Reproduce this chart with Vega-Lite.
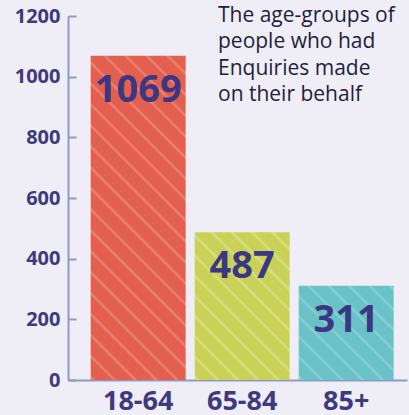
{
  "$schema": "https://vega.github.io/schema/vega-lite/v6.json",
  "width": 339,
  "height": 364,
  "autosize": {"type": "none"},
  "padding": {"left": 68, "top": 16, "right": 2, "bottom": 35},
  "background": "#efeef7",
  "config": {"view": {"stroke": null}},
  "title": {
    "text": ["The age-groups of", "people who had", "Enquiries made", "on their behalf"],
    "anchor": "start",
    "frame": "group",
    "dx": 150,
    "dy": 99,
    "baseline": "top",
    "offset": 0,
    "font": "Open Sans",
    "fontSize": 21,
    "fontWeight": "normal",
    "color": "#231e3c",
    "lineHeight": 26.5
  },
  "data": {
    "values": [
      {"group": "18-64", "count": 1069},
      {"group": "65-84", "count": 487},
      {"group": "85+", "count": 311}
    ]
  },
  "encoding": {
    "x": {
      "field": "group", "type": "nominal", "sort": null,
      "scale": {"paddingInner": 0.087, "paddingOuter": 0.173, "align": 0.63},
      "axis": {
        "title": null, "labelAngle": 0, "ticks": false, "labelPadding": 8,
        "labelFont": "Open Sans", "labelFontWeight": "bold", "labelFontSize": 27,
        "labelColor": "#3e3a7d", "domainColor": "#8f99c9", "domainWidth": 2
      }
    },
    "y": {
      "field": "count", "type": "quantitative",
      "scale": {"domain": [0, 1200]},
      "axis": {
        "title": null, "values": [0, 200, 400, 600, 800, 1000, 1200], "format": "d", "grid": false,
        "labelFont": "Open Sans", "labelFontWeight": "bold", "labelFontSize": 20,
        "labelColor": "#3e3a7d", "domainColor": "#8f99c9", "domainWidth": 2,
        "tickColor": "#8f99c9", "tickWidth": 2, "tickSize": -8, "labelPadding": 16
      }
    }
  },
  "layer": [
    {
      "transform": [{"filter": "datum.group === '18-64'"}],
      "mark": {"type": "bar", "color": {"gradient": "linear", "x1": 0, "y1": 1, "x2": 0.3488, "y2": -0.1907, "stops": [
        {"offset": 0, "color": "#e3604f"}, {"offset": 0.007, "color": "#ed8578"}, {"offset": 0.014, "color": "#e3604f"},
        {"offset": 0.05, "color": "#e3604f"}, {"offset": 0.057, "color": "#ed8578"}, {"offset": 0.064, "color": "#e3604f"},
        {"offset": 0.10, "color": "#e3604f"}, {"offset": 0.107, "color": "#ed8578"}, {"offset": 0.114, "color": "#e3604f"},
        {"offset": 0.15, "color": "#e3604f"}, {"offset": 0.157, "color": "#ed8578"}, {"offset": 0.164, "color": "#e3604f"},
        {"offset": 0.20, "color": "#e3604f"}, {"offset": 0.207, "color": "#ed8578"}, {"offset": 0.214, "color": "#e3604f"},
        {"offset": 0.25, "color": "#e3604f"}, {"offset": 0.257, "color": "#ed8578"}, {"offset": 0.264, "color": "#e3604f"},
        {"offset": 0.30, "color": "#e3604f"}, {"offset": 0.307, "color": "#ed8578"}, {"offset": 0.314, "color": "#e3604f"},
        {"offset": 0.35, "color": "#e3604f"}, {"offset": 0.357, "color": "#ed8578"}, {"offset": 0.364, "color": "#e3604f"},
        {"offset": 0.40, "color": "#e3604f"}, {"offset": 0.407, "color": "#ed8578"}, {"offset": 0.414, "color": "#e3604f"},
        {"offset": 0.45, "color": "#e3604f"}, {"offset": 0.457, "color": "#ed8578"}, {"offset": 0.464, "color": "#e3604f"},
        {"offset": 0.50, "color": "#e3604f"}, {"offset": 0.507, "color": "#ed8578"}, {"offset": 0.514, "color": "#e3604f"},
        {"offset": 0.55, "color": "#e3604f"}, {"offset": 0.557, "color": "#ed8578"}, {"offset": 0.564, "color": "#e3604f"},
        {"offset": 0.60, "color": "#e3604f"}, {"offset": 0.607, "color": "#ed8578"}, {"offset": 0.614, "color": "#e3604f"},
        {"offset": 0.65, "color": "#e3604f"}, {"offset": 0.657, "color": "#ed8578"}, {"offset": 0.664, "color": "#e3604f"},
        {"offset": 0.70, "color": "#e3604f"}, {"offset": 0.707, "color": "#ed8578"}, {"offset": 0.714, "color": "#e3604f"},
        {"offset": 0.75, "color": "#e3604f"}, {"offset": 0.757, "color": "#ed8578"}, {"offset": 0.764, "color": "#e3604f"},
        {"offset": 0.80, "color": "#e3604f"}, {"offset": 0.807, "color": "#ed8578"}, {"offset": 0.814, "color": "#e3604f"},
        {"offset": 0.85, "color": "#e3604f"}, {"offset": 0.857, "color": "#ed8578"}, {"offset": 0.864, "color": "#e3604f"},
        {"offset": 0.90, "color": "#e3604f"}, {"offset": 0.907, "color": "#ed8578"}, {"offset": 0.914, "color": "#e3604f"},
        {"offset": 0.95, "color": "#e3604f"}, {"offset": 0.957, "color": "#ed8578"}, {"offset": 0.964, "color": "#e3604f"}
      ]}}
    },
    {
      "transform": [{"filter": "datum.group === '65-84'"}],
      "mark": {"type": "bar", "color": {"gradient": "linear", "x1": 0, "y1": 1, "x2": 0.7476, "y2": -0.1623, "stops": [
        {"offset": 0, "color": "#c9d257"}, {"offset": 0.0124, "color": "#d9e085"}, {"offset": 0.0247, "color": "#c9d257"},
        {"offset": 0.0833, "color": "#c9d257"}, {"offset": 0.0957, "color": "#d9e085"}, {"offset": 0.108, "color": "#c9d257"},
        {"offset": 0.1667, "color": "#c9d257"}, {"offset": 0.1791, "color": "#d9e085"}, {"offset": 0.1914, "color": "#c9d257"},
        {"offset": 0.25, "color": "#c9d257"}, {"offset": 0.2624, "color": "#d9e085"}, {"offset": 0.2747, "color": "#c9d257"},
        {"offset": 0.3333, "color": "#c9d257"}, {"offset": 0.3457, "color": "#d9e085"}, {"offset": 0.358, "color": "#c9d257"},
        {"offset": 0.4167, "color": "#c9d257"}, {"offset": 0.4291, "color": "#d9e085"}, {"offset": 0.4414, "color": "#c9d257"},
        {"offset": 0.5, "color": "#c9d257"}, {"offset": 0.5124, "color": "#d9e085"}, {"offset": 0.5247, "color": "#c9d257"},
        {"offset": 0.5833, "color": "#c9d257"}, {"offset": 0.5957, "color": "#d9e085"}, {"offset": 0.608, "color": "#c9d257"},
        {"offset": 0.6667, "color": "#c9d257"}, {"offset": 0.6791, "color": "#d9e085"}, {"offset": 0.6914, "color": "#c9d257"},
        {"offset": 0.75, "color": "#c9d257"}, {"offset": 0.7624, "color": "#d9e085"}, {"offset": 0.7747, "color": "#c9d257"},
        {"offset": 0.8333, "color": "#c9d257"}, {"offset": 0.8457, "color": "#d9e085"}, {"offset": 0.858, "color": "#c9d257"},
        {"offset": 0.9167, "color": "#c9d257"}, {"offset": 0.9291, "color": "#d9e085"}, {"offset": 0.9414, "color": "#c9d257"}
      ]}}
    },
    {
      "transform": [{"filter": "datum.group === '85+'"}],
      "mark": {"type": "bar", "color": {"gradient": "linear", "x1": 0, "y1": 1, "x2": 1, "y2": 0, "stops": [
        {"offset": 0, "color": "#68c2c7"}, {"offset": 0.0158, "color": "#8bd1d5"}, {"offset": 0.0317, "color": "#68c2c7"},
        {"offset": 0.107, "color": "#68c2c7"}, {"offset": 0.1228, "color": "#8bd1d5"}, {"offset": 0.1387, "color": "#68c2c7"},
        {"offset": 0.214, "color": "#68c2c7"}, {"offset": 0.2298, "color": "#8bd1d5"}, {"offset": 0.2457, "color": "#68c2c7"},
        {"offset": 0.321, "color": "#68c2c7"}, {"offset": 0.3368, "color": "#8bd1d5"}, {"offset": 0.3527, "color": "#68c2c7"},
        {"offset": 0.428, "color": "#68c2c7"}, {"offset": 0.4438, "color": "#8bd1d5"}, {"offset": 0.4597, "color": "#68c2c7"},
        {"offset": 0.535, "color": "#68c2c7"}, {"offset": 0.5508, "color": "#8bd1d5"}, {"offset": 0.5667, "color": "#68c2c7"},
        {"offset": 0.642, "color": "#68c2c7"}, {"offset": 0.6578, "color": "#8bd1d5"}, {"offset": 0.6737, "color": "#68c2c7"},
        {"offset": 0.749, "color": "#68c2c7"}, {"offset": 0.7648, "color": "#8bd1d5"}, {"offset": 0.7807, "color": "#68c2c7"},
        {"offset": 0.856, "color": "#68c2c7"}, {"offset": 0.8718, "color": "#8bd1d5"}, {"offset": 0.8877, "color": "#68c2c7"},
        {"offset": 0.963, "color": "#68c2c7"}, {"offset": 0.9788, "color": "#8bd1d5"}, {"offset": 0.9947, "color": "#68c2c7"}
      ]}}
    },
    {
      "mark": {"type": "text", "baseline": "alphabetic", "dy": 46, "font": "Open Sans", "fontWeight": "bold", "fontSize": 38, "color": "#3b3782"},
      "encoding": {"text": {"field": "count", "type": "quantitative"}}
    }
  ]
}
